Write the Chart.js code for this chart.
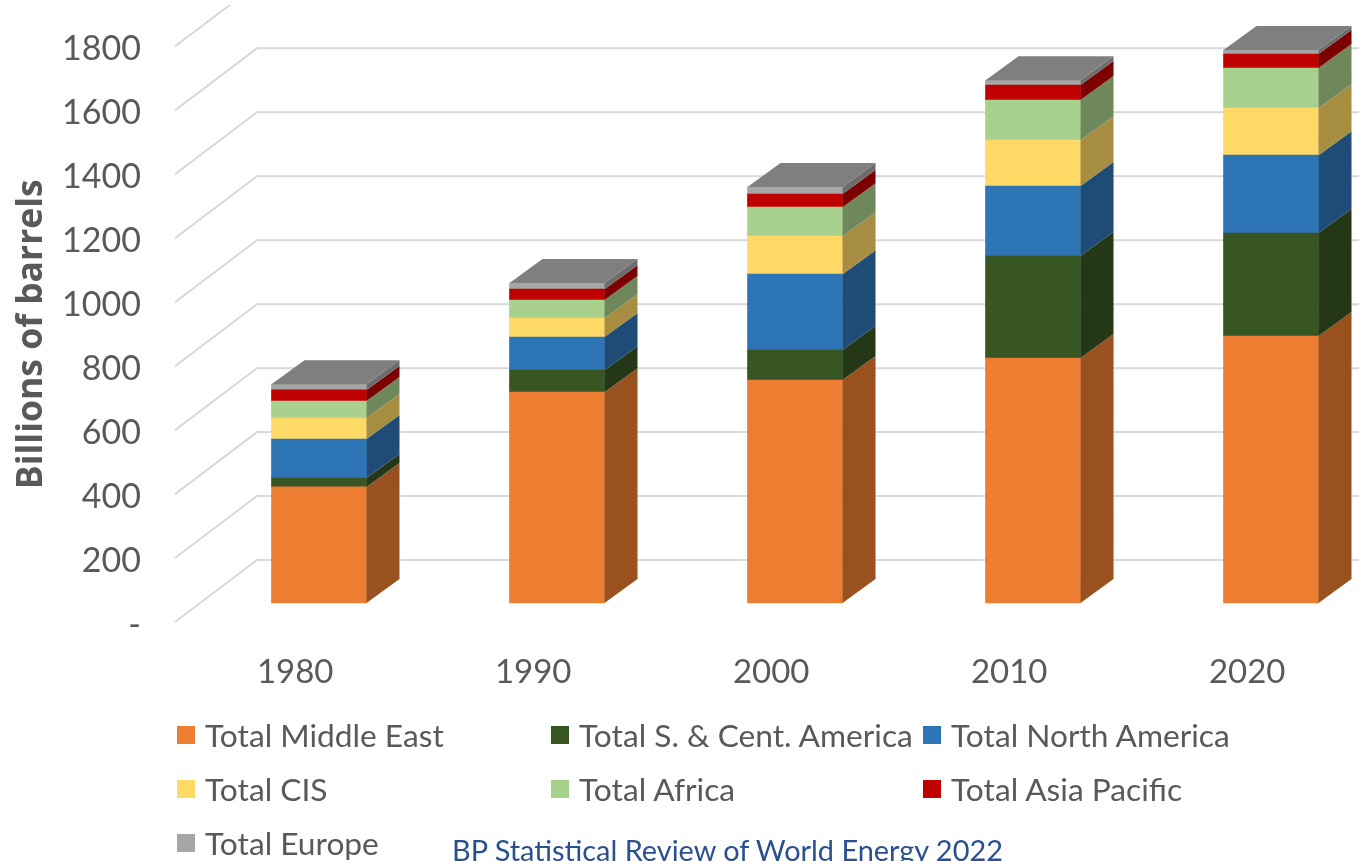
<!DOCTYPE html>
<html>
<head>
<meta charset="utf-8">
<title>Oil reserves by region</title>
<script src="https://cdn.jsdelivr.net/npm/chart.js@4/dist/chart.umd.min.js"></script>
<style>
  html, body { margin: 0; padding: 0; background: #fff; overflow: hidden; }
  #wrap { position: relative; width: 1359px; height: 861px; overflow: hidden; }
  #legend {
    position: absolute; left: 177px; top: 708px;
    display: grid; grid-template-columns: 374px 372px 400px; grid-auto-rows: 54px;
    font: 31.7px Lato, sans-serif; color: #595959;
  }
  #legend div { display: flex; align-items: center; white-space: nowrap; }
  #legend i { display: block; width: 18px; height: 18px; margin-right: 10px; }
  #source {
    position: absolute; left: 452px; top: 832px; white-space: nowrap;
    font: 28.9px Lato, sans-serif; color: #2a5090;
  }
</style>
</head>
<body>
<div id="wrap">
  <canvas id="reserves" width="1359" height="861"></canvas>
  <div id="legend"></div>
  <div id="source">BP Statistical Review of World Energy 2022</div>
</div>
<script>
const years = [1980, 1990, 2000, 2010, 2020];
const middleEast = [364, 661, 699, 768, 837];
const southCentAmerica = [28, 69, 94, 320, 323];
const northAmerica = [122, 104, 238, 219, 244];
const cis = [66, 59, 119, 144, 148];
const africa = [53, 57, 91, 126, 125];
const asiaPacific = [35, 34, 41, 47, 44];
const europe = [18, 19, 22, 15, 13];

const seriesNames = ['Total Middle East', 'Total S. & Cent. America', 'Total North America',
  'Total CIS', 'Total Africa', 'Total Asia Pacific', 'Total Europe'];
const seriesValues = [middleEast, southCentAmerica, northAmerica, cis, africa, asiaPacific, europe];
const seriesColors = ['#ED7D31', '#375623', '#2E75B6', '#FFD966', '#A9D18E', '#C00000', '#A6A6A6'];

const GREY = '#595959';
const BAR_DEPTH = { x: 33, y: 24 };    // side and top face of each column
const WALL_DEPTH = { x: 82, y: 62 };   // floor to back wall
const WALL_TOP = 5;
const ROOF_COLOR = '#7F7F7F';

function shade(hex, k) {
  const n = parseInt(hex.slice(1), 16);
  const c = [n >> 16, (n >> 8) & 255, n & 255].map(v => Math.round(v * k));
  return `rgb(${c[0]},${c[1]},${c[2]})`;
}

function quad(ctx, pts, fill) {
  ctx.fillStyle = fill;
  ctx.beginPath();
  pts.forEach((p, i) => (i ? ctx.lineTo(p[0], p[1]) : ctx.moveTo(p[0], p[1])));
  ctx.closePath();
  ctx.fill();
}

// Back wall: each gridline runs diagonally off the front plane, then along the wall
const wallPlugin = {
  id: 'wall',
  beforeDatasetsDraw(chart) {
    const { ctx, width, height, chartArea, scales } = chart;
    const left = chartArea.left;
    ctx.save();
    ctx.beginPath();
    ctx.rect(0, WALL_TOP, width, height - WALL_TOP);
    ctx.clip();
    ctx.strokeStyle = '#D9D9D9';
    ctx.lineWidth = 2;
    scales.yFront.ticks.forEach(t => {
      const y = scales.yFront.getPixelForValue(t.value);
      ctx.beginPath();
      ctx.moveTo(left, y);
      ctx.lineTo(left + WALL_DEPTH.x, y - WALL_DEPTH.y);
      ctx.lineTo(width, y - WALL_DEPTH.y);
      ctx.stroke();
    });
    ctx.restore();
  }
};

// Side and top faces for the stacked columns
const depthPlugin = {
  id: 'depth',
  afterDatasetsDraw(chart) {
    const { ctx } = chart;
    const dx = BAR_DEPTH.x, dy = BAR_DEPTH.y;
    ctx.save();
    chart.data.datasets.forEach((ds, i) => {
      chart.getDatasetMeta(i).data.forEach(bar => {
        const right = bar.x + bar.width / 2;
        const left = bar.x - bar.width / 2;
        quad(ctx, [[right, bar.y], [right, bar.base], [right + dx, bar.base - dy], [right + dx, bar.y - dy]],
          shade(seriesColors[i], 0.65));
        if (i === chart.data.datasets.length - 1) {
          quad(ctx, [[left, bar.y], [right, bar.y], [right + dx, bar.y - dy], [left + dx, bar.y - dy]], ROOF_COLOR);
        }
      });
    });
    ctx.restore();
  }
};

const htmlLegend = {
  id: 'htmlLegend',
  afterInit(chart) {
    const box = document.getElementById('legend');
    chart.data.datasets.forEach(ds => {
      const item = document.createElement('div');
      const swatch = document.createElement('i');
      swatch.style.background = ds.backgroundColor;
      item.appendChild(swatch);
      item.appendChild(document.createTextNode(ds.label));
      box.appendChild(item);
    });
  }
};

const datasets = seriesNames.map((name, i) => ({
  label: name,
  data: years.map((yr, j) => ({ x: yr, y: seriesValues[i][j] })),
  backgroundColor: seriesColors[i],
  borderWidth: 0,
  barThickness: 95,
  xAxisID: 'xBars',
  yAxisID: 'yBars',
  clip: false
}));

new Chart(document.getElementById('reserves'), {
  type: 'bar',
  data: { datasets },
  plugins: [wallPlugin, depthPlugin, htmlLegend],
  options: {
    responsive: false,
    animation: false,
    layout: { padding: { top: 40, left: 0, right: 0, bottom: 0 } },
    plugins: { legend: { display: false }, tooltip: { enabled: false } },
    scales: {
      // columns stand part way into the floor, so they get their own hidden axes
      xBars: { type: 'linear', display: false, offset: false, stacked: true, min: 1973.95, max: 2023.697 },
      yBars: { type: 'linear', display: false, stacked: true, min: -59.56, max: 1745 },
      xFront: {
        type: 'linear', position: 'bottom', offset: false, min: 1974.95, max: 2024.697,
        grid: { display: false }, border: { display: false },
        afterBuildTicks: s => { s.ticks = years.map(v => ({ value: v })); },
        afterFit: s => { s.height = 239; },
        ticks: { color: GREY, padding: 23, maxRotation: 0, autoSkip: false, font: { family: 'Lato', size: 33 }, callback: v => String(v) }
      },
      yFront: {
        type: 'linear', position: 'left', min: 0, max: 1800,
        grid: { display: false }, border: { display: false },
        afterFit: s => { s.width = 175; },
        title: { display: true, text: 'Billions of barrels', color: GREY, padding: { top: 11, bottom: 0 }, font: { family: 'Open Sans', size: 35.5, weight: 'bold' } },
        ticks: { stepSize: 200, color: GREY, padding: 26, labelOffset: 3, font: { family: 'Lato', size: 34 }, callback: v => (v === 0 ? '-' : String(v)) }
      }
    }
  }
});
</script>
</body>
</html>
